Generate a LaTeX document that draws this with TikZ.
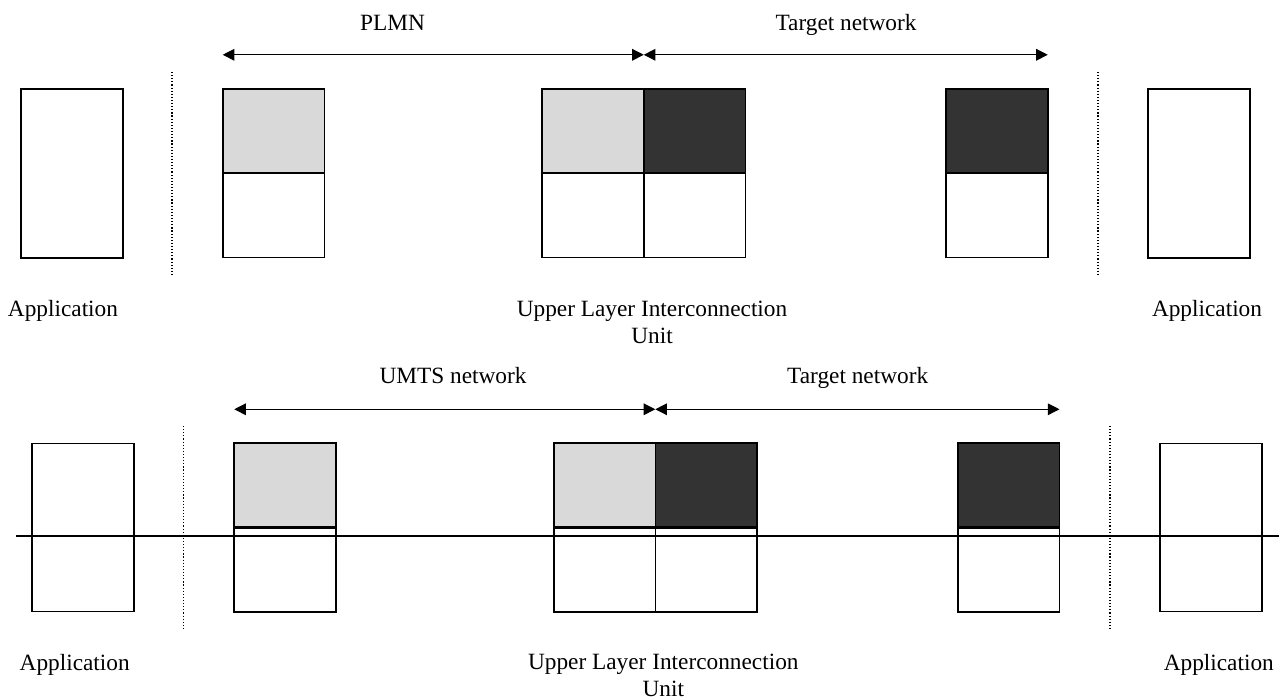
\documentclass[tikz,border=0pt]{standalone}
\usepackage{fontspec}
\setmainfont{Liberation Serif}
\usepackage{tikz}
\usetikzlibrary{positioning,arrows.meta}
\definecolor{plmngrey}{RGB}{217,217,217}
\definecolor{targetgrey}{RGB}{51,51,51}

\begin{document}
\begin{tikzpicture}[x=0.515pt, y=-0.515pt,
  cell/.style={draw, line width=0.8pt, minimum width=52.3pt, minimum height=43.5pt, inner sep=0pt, outer sep=0pt},
  lowcell/.style={cell, minimum height=43pt},
  appbox/.style={cell, minimum height=87pt},
  span/.style={{Triangle[length=6pt,width=6pt]}-{Triangle[length=6pt,width=6pt]}, line width=0.6pt},
  divider/.style={densely dotted, line width=0.6pt},
  txt/.style={font=\fontsize{12}{14}\selectfont, inner sep=0pt, anchor=base, align=center}]
\useasboundingbox (0,0) rectangle (1286,700);

% upper picture: PLMN + target network
\node[appbox] (appA) at (72,173.5) {};
\node[cell, fill=plmngrey] (plmnhi) at (273.5,131) {};
\node[cell, below=0pt of plmnhi] (plmnlo) {};
\node[cell, fill=plmngrey] (uliAhi) at (593,131) {};
\node[cell, fill=targetgrey, right=0pt of uliAhi] (uliBhi) {};
\node[cell, below=0pt of uliAhi] (uliAlo) {};
\node[cell, below=0pt of uliBhi] (uliBlo) {};
\node[cell, fill=targetgrey] (tgthi) at (997,131) {};
\node[cell, below=0pt of tgthi] (tgtlo) {};
\node[appbox] (appB) at (1199,173.5) {};

\coordinate (dA1) at (172,72);
\coordinate (dA2) at (172,275);
\coordinate (dB1) at (1098,72);
\coordinate (dB2) at (1098,275);
\draw[divider] (dA1) -- (dA2);
\draw[divider] (dB1) -- (dB2);

\draw[span] ([yshift=17.5pt]plmnhi.north west) -- ([yshift=17.5pt]uliAhi.north east);
\draw[span] ([yshift=17.5pt]uliBhi.north west) -- ([yshift=17.5pt]tgthi.north east);

\node[txt] (plmn) at (392.5,30.7) {PLMN};
\node[txt] (target) at (846,30.7) {Target network};
\node[txt] (appAtxt) at (63,316) {Application};
\node[txt] (uliutxt) at (652,343.3) {Upper Layer Interconnection\\Unit};
\node[txt] (appBtxt) at (1207,316) {Application};

% lower picture: UMTS network + target network
\node[appbox, minimum height=86.7pt] (appC) at (83,527.5) {};
\node[lowcell, fill=plmngrey] (umtshi) at (285,485) {};
\node[lowcell, below=0.8pt of umtshi] (umtslo) {};
\node[lowcell, fill=plmngrey] (uluAhi) at (604.5,485) {};
\node[lowcell, fill=targetgrey, right=0pt of uluAhi] (uluBhi) {};
\node[lowcell, below=0.8pt of uluAhi] (uluAlo) {};
\node[lowcell, below=0.8pt of uluBhi] (uluBlo) {};
\node[lowcell, fill=targetgrey] (tgt2hi) at (1008.7,485) {};
\node[lowcell, below=0.8pt of tgt2hi] (tgt2lo) {};
\node[appbox, minimum height=86.7pt] (appD) at (1211,527.5) {};

\coordinate (busL) at (16,535.7);
\coordinate (busR) at (1279,535.7);
\draw[line width=1pt] (busL) -- (busR);

\coordinate (dC1) at (183.7,426);
\coordinate (dC2) at (183.7,628.3);
\coordinate (dD1) at (1110,426);
\coordinate (dD2) at (1110,628.3);
\draw[divider] (dC1) -- (dC2);
\draw[divider] (dD1) -- (dD2);

\draw[span] ([yshift=17.5pt]umtshi.north west) -- ([yshift=17.5pt]uluAhi.north east);
\draw[span] ([yshift=17.5pt]uluBhi.north west) -- ([yshift=17.5pt]tgt2hi.north east);

\node[txt] (umts) at (453,383.3) {UMTS network};
\node[txt] (target2) at (857.7,383) {Target network};
\node[txt] (appCtxt) at (74.7,670) {Application};
\node[txt] (uluutxt) at (663.3,696.7) {Upper Layer Interconnection\\Unit};
\node[txt] (appDtxt) at (1218.8,670) {Application};
\end{tikzpicture}
\end{document}
